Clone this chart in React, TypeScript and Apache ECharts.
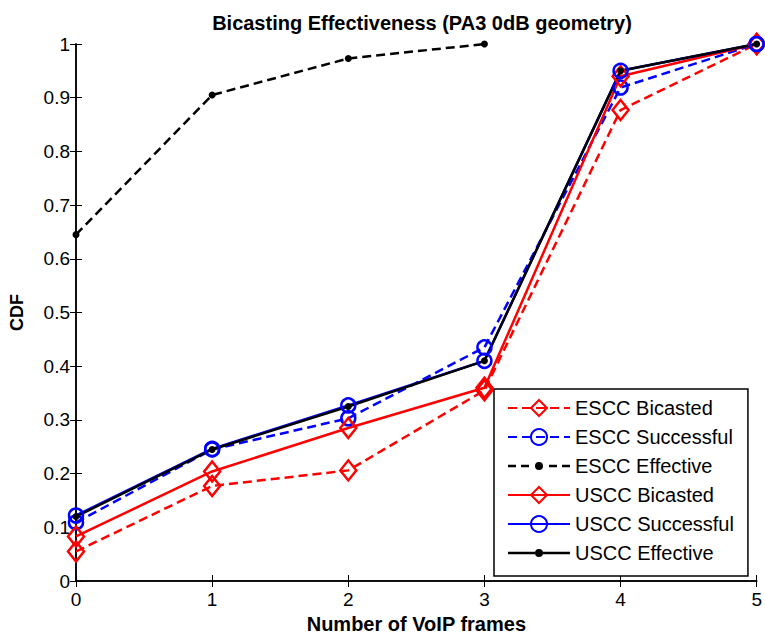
import React, { useEffect, useRef } from "react";
import * as echarts from "echarts";

const xValues = [0, 1, 2, 3, 4, 5];
const esccBicasted = [0.055, 0.177, 0.206, 0.355, 0.877, 1.0];
const esccSuccessful = [0.109, 0.245, 0.303, 0.435, 0.919, 1.0];
const esccEffective = [0.645, 0.905, 0.973, 1.0];
const usccBicasted = [0.083, 0.204, 0.285, 0.36, 0.94, 1.0];
const usccSuccessful = [0.122, 0.246, 0.327, 0.41, 0.95, 1.0];
const usccEffective = [0.12, 0.245, 0.325, 0.41, 0.95, 1.0];

const pairs = (ys: number[]) => ys.map((y, i) => [xValues[i], y]);

const FONT = "Liberation Sans, Arial, sans-serif";

const DOT = "M27,10A4,4,0,1,1,35,10A4,4,0,1,1,27,10Z";
const ICON_DASHED_DOT =
  "path://M0,8.75H8V11.25H0Z M13,8.75H21V11.25H13Z M41,8.75H49V11.25H41Z M54,8.75H62V11.25H54Z " + DOT;
const ICON_SOLID_DOT = "path://M0,8.75H27V11.25H0Z M35,8.75H62V11.25H35Z " + DOT;

export default function App() {
  const ref = useRef<HTMLDivElement>(null);
  useEffect(() => {
    const chart = echarts.init(ref.current!, null, { renderer: "svg" });
    const mk = (
      name: string,
      ys: number[],
      color: string,
      dashed: boolean,
      symbol: string,
      size: any,
      filled: boolean
    ) => ({
      name,
      type: "line",
      data: pairs(ys),
      symbol,
      symbolSize: size,
      showAllSymbol: true,
      lineStyle: { color, width: 2.5, type: dashed ? [9, 5] : "solid" },
      itemStyle: {
        color: filled ? color : "rgba(255,255,255,0)",
        borderColor: color,
        borderWidth: filled ? 0 : 2.5,
      },
      emphasis: { disabled: true },
      z: 3,
    });
    chart.setOption({
      animation: false,
      backgroundColor: "#ffffff",
      title: {
        text: "Bicasting Effectiveness (PA3 0dB geometry)",
        left: 417,
        textAlign: "center",
        top: 8,
        textStyle: { fontFamily: FONT, fontSize: 20, fontWeight: "bold", color: "#000" },
      },
      grid: { left: 76, right: 7, top: 44, bottom: 58 },
      legend: {
        orient: "vertical",
        left: 494,
        top: 389,
        backgroundColor: "#ffffff",
        borderColor: "#000",
        borderWidth: 1.5,
        borderRadius: 0,
        padding: [9, 14, 13, 13],
        itemWidth: 62,
        itemHeight: 20,
        itemGap: 9,
        itemTextGap: 8,
        textStyle: { fontFamily: FONT, fontSize: 20, color: "#000" },
        data: [
          { name: "ESCC Bicasted" },
          { name: "ESCC Successful" },
          { name: "ESCC Effective", icon: ICON_DASHED_DOT },
          { name: "USCC Bicasted" },
          { name: "USCC Successful" },
          { name: "USCC Effective", icon: ICON_SOLID_DOT },
        ],
      },
      xAxis: [
        {
          type: "value",
          min: 0,
          max: 5,
          interval: 1,
          position: "bottom",
          name: "Number of VoIP frames",
          nameLocation: "middle",
          nameGap: 28,
          nameTextStyle: { fontFamily: FONT, fontSize: 20, fontWeight: "bold", color: "#000" },
          axisLine: { show: true, lineStyle: { color: "#000", width: 1.5 } },
          axisTick: { show: true, inside: true, length: 6, lineStyle: { color: "#000" } },
          axisLabel: { fontFamily: FONT, fontSize: 19, color: "#000", margin: 9 },
          splitLine: { show: false },
        },
        {
          type: "value",
          min: 0,
          max: 5,
          interval: 1,
          position: "top",
          axisLine: { show: true, lineStyle: { color: "#000", width: 1.5 } },
          axisTick: { show: true, inside: true, length: 6, lineStyle: { color: "#000" } },
          axisLabel: { show: false },
          splitLine: { show: false },
        },
      ],
      yAxis: [
        {
          type: "value",
          min: 0,
          max: 1,
          interval: 0.1,
          position: "left",
          name: "CDF",
          nameLocation: "middle",
          nameGap: 50,
          nameTextStyle: { fontFamily: FONT, fontSize: 18, fontWeight: "bold", color: "#000" },
          axisLine: { show: true, lineStyle: { color: "#000", width: 1.5 } },
          axisTick: { show: true, inside: true, length: 6, lineStyle: { color: "#000" } },
          axisLabel: {
            fontFamily: FONT,
            fontSize: 19,
            color: "#000",
            margin: 6,
            formatter: (v: number) => String(Math.round(v * 10) / 10),
          },
          splitLine: { show: false },
        },
        {
          type: "value",
          min: 0,
          max: 1,
          interval: 0.1,
          position: "right",
          axisLine: { show: true, lineStyle: { color: "#000", width: 1.5 } },
          axisTick: { show: true, inside: true, length: 6, lineStyle: { color: "#000" } },
          axisLabel: { show: false },
          splitLine: { show: false },
        },
      ],
      series: [
        mk("ESCC Bicasted", esccBicasted, "#ff0000", true, "diamond", [16, 20], false),
        mk("ESCC Successful", esccSuccessful, "#0000ff", true, "circle", 14, false),
        mk("ESCC Effective", esccEffective, "#000000", true, "circle", 7, true),
        mk("USCC Bicasted", usccBicasted, "#ff0000", false, "diamond", [16, 20], false),
        mk("USCC Successful", usccSuccessful, "#0000ff", false, "circle", 14, false),
        mk("USCC Effective", usccEffective, "#000000", false, "circle", 7, true),
      ],
    });
    return () => chart.dispose();
  }, []);
  return <div ref={ref} style={{ width: 765, height: 639, position: "absolute", left: 0, top: 0 }} />;
}
